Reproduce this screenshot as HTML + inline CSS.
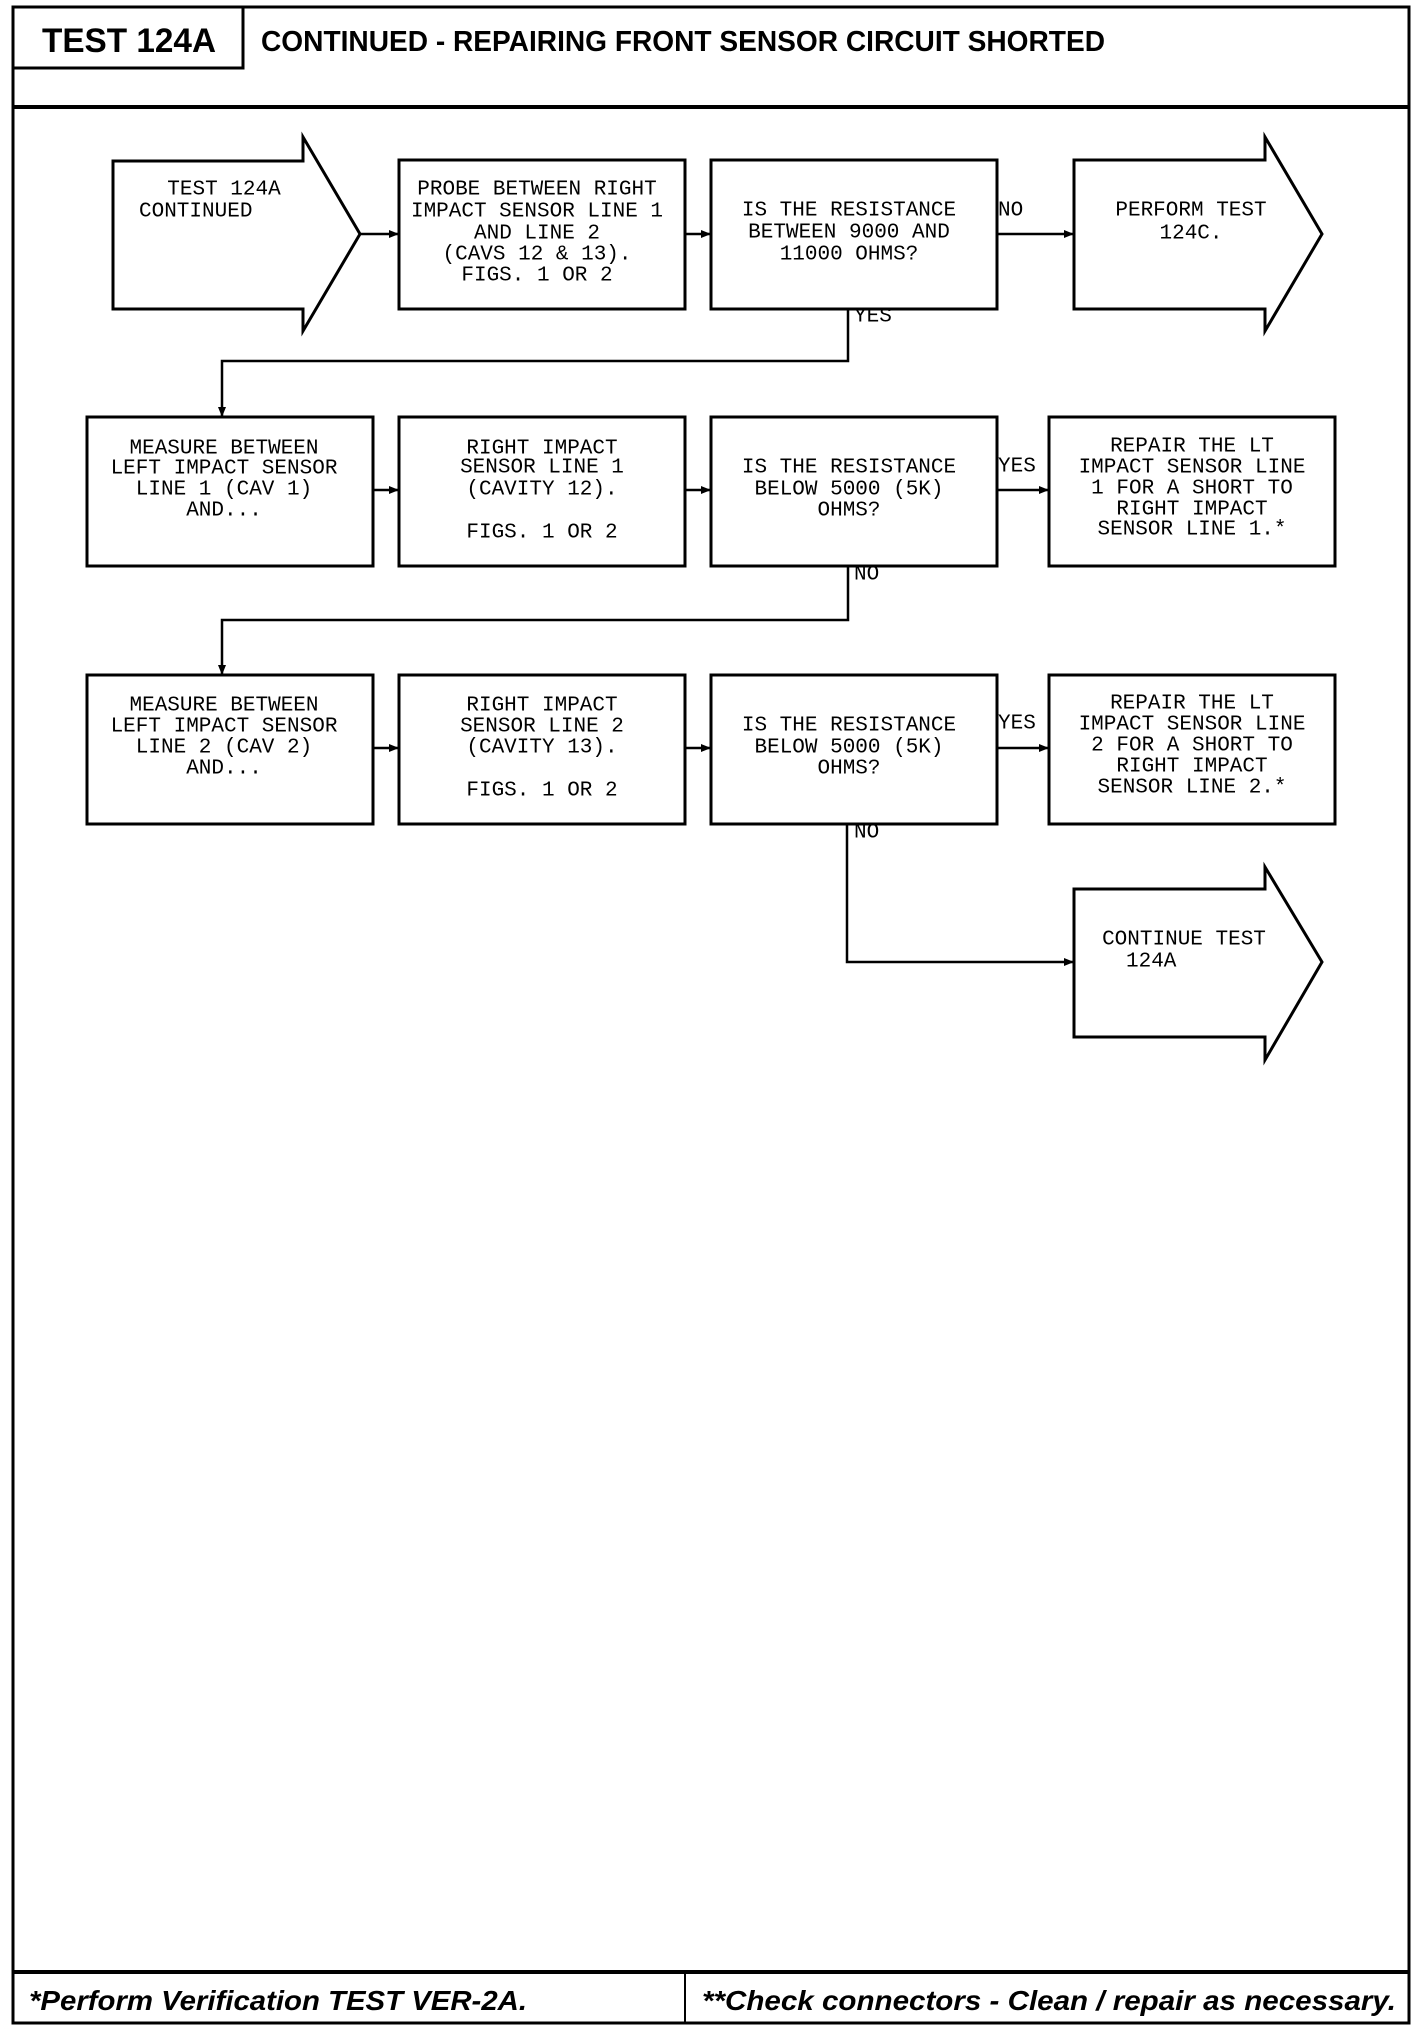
<!DOCTYPE html>
<html><head><meta charset="utf-8"><style>
html,body{margin:0;padding:0;background:#fff;}
svg{display:block;}
.m{font-family:"Liberation Mono",monospace;font-size:21px;fill:#000;}
</style></head><body>
<svg width="1424" height="2032" viewBox="0 0 1424 2032" xmlns="http://www.w3.org/2000/svg">
<defs><marker id="a" markerWidth="10" markerHeight="10" refX="9" refY="5" orient="auto" markerUnits="userSpaceOnUse"><path d="M0,1 L10,5 L0,9 z" fill="#000"/></marker></defs>
<g fill="none" stroke="#000">
<rect x="13" y="7" width="1396" height="2016" stroke-width="3"/>
<polyline points="13,68 243,68 243,7" stroke-width="3"/>
<line x1="13" y1="107" x2="1409" y2="107" stroke-width="4"/>
<line x1="13" y1="1972" x2="1409" y2="1972" stroke-width="4"/>
<line x1="685" y1="1972" x2="685" y2="2023" stroke-width="2"/>
</g>
<text x="42" y="52" font-family="Liberation Sans,sans-serif" font-weight="bold" font-size="34" textLength="174" lengthAdjust="spacingAndGlyphs">TEST 124A</text>
<text x="261" y="51" font-family="Liberation Sans,sans-serif" font-weight="bold" font-size="29" textLength="844" lengthAdjust="spacingAndGlyphs">CONTINUED - REPAIRING FRONT SENSOR CIRCUIT SHORTED</text>
<text x="29" y="2010" font-family="Liberation Sans,sans-serif" font-weight="bold" font-style="italic" font-size="28" textLength="498" lengthAdjust="spacingAndGlyphs">*Perform Verification TEST VER-2A.</text>
<text x="702" y="2010" font-family="Liberation Sans,sans-serif" font-weight="bold" font-style="italic" font-size="28" textLength="694" lengthAdjust="spacingAndGlyphs">**Check connectors - Clean / repair as necessary.</text>

<g fill="none" stroke="#000" stroke-width="3">
<polygon points="113,161 303,161 303,137 360,234 303,331 303,309 113,309"/>
<rect x="399" y="160" width="286" height="149"/>
<rect x="711" y="160" width="286" height="149"/>
<polygon points="1074,160 1265,160 1265,137 1322,234 1265,331 1265,309 1074,309"/>
<rect x="87" y="417" width="286" height="149"/>
<rect x="399" y="417" width="286" height="149"/>
<rect x="711" y="417" width="286" height="149"/>
<rect x="1049" y="417" width="286" height="149"/>
<rect x="87" y="675" width="286" height="149"/>
<rect x="399" y="675" width="286" height="149"/>
<rect x="711" y="675" width="286" height="149"/>
<rect x="1049" y="675" width="286" height="149"/>
<polygon points="1074,889 1265,889 1265,867 1322,962 1265,1060 1265,1037 1074,1037"/>
</g>
<g fill="none" stroke="#000" stroke-width="2.5" marker-end="url(#a)">
<line x1="360" y1="234" x2="398" y2="234"/>
<line x1="685" y1="234" x2="710" y2="234"/>
<line x1="997" y1="234" x2="1073" y2="234"/>
<polyline points="848,309 848,361 222,361 222,416"/>
<line x1="373" y1="490" x2="398" y2="490"/>
<line x1="685" y1="490" x2="710" y2="490"/>
<line x1="997" y1="490" x2="1048" y2="490"/>
<polyline points="848,566 848,620 222,620 222,674"/>
<line x1="373" y1="748" x2="398" y2="748"/>
<line x1="685" y1="748" x2="710" y2="748"/>
<line x1="997" y1="748" x2="1048" y2="748"/>
<polyline points="847,824 847,962 1073,962"/>
</g>
<g class="m" dominant-baseline="central">
<text x="224" y="190" text-anchor="middle">TEST 124A</text>
<text x="139" y="212">CONTINUED</text>
<g text-anchor="middle">
<text x="537" y="190">PROBE BETWEEN RIGHT</text>
<text x="537" y="212">IMPACT SENSOR LINE 1</text>
<text x="537" y="234">AND LINE 2</text>
<text x="537" y="255">(CAVS 12 &amp; 13).</text>
<text x="537" y="276">FIGS. 1 OR 2</text>
<text x="849" y="211">IS THE RESISTANCE</text>
<text x="849" y="233">BETWEEN 9000 AND</text>
<text x="849" y="255">11000 OHMS?</text>
<text x="1191" y="211">PERFORM TEST</text>
<text x="1191" y="234">124C.</text>

<text x="224" y="449">MEASURE BETWEEN</text>
<text x="224" y="469">LEFT IMPACT SENSOR</text>
<text x="224" y="490">LINE 1 (CAV 1)</text>
<text x="224" y="511">AND...</text>
<text x="542" y="449">RIGHT IMPACT</text>
<text x="542" y="468">SENSOR LINE 1</text>
<text x="542" y="490">(CAVITY 12).</text>
<text x="542" y="533">FIGS. 1 OR 2</text>
<text x="849" y="468">IS THE RESISTANCE</text>
<text x="849" y="490">BELOW 5000 (5K)</text>
<text x="849" y="511">OHMS?</text>
<text x="1192" y="447">REPAIR THE LT</text>
<text x="1192" y="468">IMPACT SENSOR LINE</text>
<text x="1192" y="489">1 FOR A SHORT TO</text>
<text x="1192" y="510">RIGHT IMPACT</text>
<text x="1192" y="530">SENSOR LINE 1.*</text>

<text x="224" y="706">MEASURE BETWEEN</text>
<text x="224" y="727">LEFT IMPACT SENSOR</text>
<text x="224" y="748">LINE 2 (CAV 2)</text>
<text x="224" y="769">AND...</text>
<text x="542" y="706">RIGHT IMPACT</text>
<text x="542" y="727">SENSOR LINE 2</text>
<text x="542" y="748">(CAVITY 13).</text>
<text x="542" y="791">FIGS. 1 OR 2</text>
<text x="849" y="726">IS THE RESISTANCE</text>
<text x="849" y="748">BELOW 5000 (5K)</text>
<text x="849" y="769">OHMS?</text>
<text x="1192" y="704">REPAIR THE LT</text>
<text x="1192" y="725">IMPACT SENSOR LINE</text>
<text x="1192" y="746">2 FOR A SHORT TO</text>
<text x="1192" y="767">RIGHT IMPACT</text>
<text x="1192" y="788">SENSOR LINE 2.*</text>

<text x="1184" y="940">CONTINUE TEST</text>
</g>
<text x="1126" y="962">124A</text>
<text x="998" y="211">NO</text>
<text x="854" y="317">YES</text>
<text x="998" y="467">YES</text>
<text x="854" y="575">NO</text>
<text x="998" y="724">YES</text>
<text x="854" y="833">NO</text>
</g>
</svg>
</body></html>
